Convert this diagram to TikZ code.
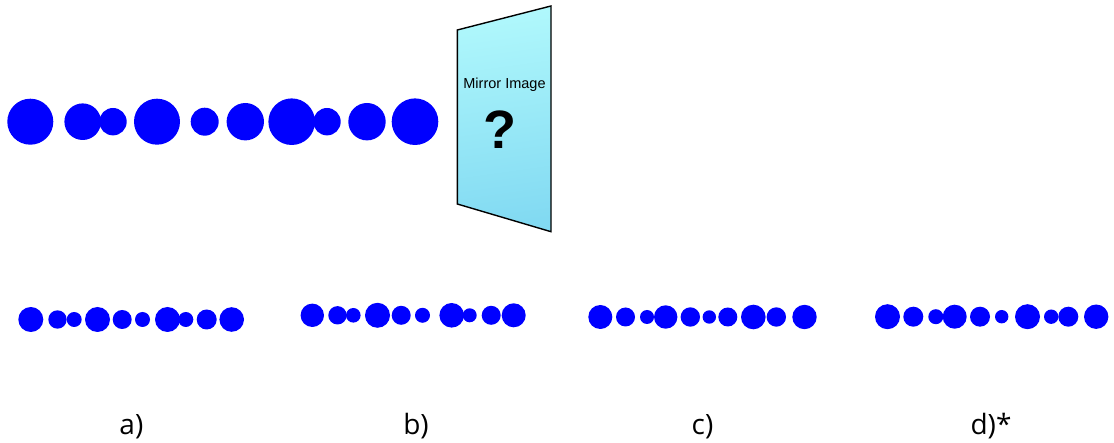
\documentclass[tikz,border=0pt]{standalone}
\usepackage{fontspec}
\newfontfamily\arialf{Liberation Sans}
\newfontfamily\labf{Open Sans}
\definecolor{dotblue}{HTML}{0000FF}
\definecolor{mtop}{HTML}{B0F8FC}
\definecolor{mmid}{HTML}{3EC9EA}
\definecolor{mbot}{HTML}{82DAF2}
\begin{document}
\begin{tikzpicture}[x=1pt,y=-1pt,
  dot/.style={fill=dotblue},
  lab/.style={font=\labf\fontsize{28}{30}\selectfont, anchor=base, inner sep=0pt},
  mirrortext/.style={font=\arialf\fontsize{14.5}{16}\selectfont, anchor=base, inner sep=0pt},
  qmark/.style={font=\arialf\bfseries\fontsize{54}{60}\selectfont, anchor=base, inner sep=0pt}]
\useasboundingbox (0,0) rectangle (1114,443);
% original row
\foreach \x/\r in {30.3/23, 82.7/18.3, 113/13.7, 157/23, 204.7/14, 245.3/18.7, 291.7/23.3, 327/13.7, 367/18.7, 415/23.3}
  \fill[dot] (\x,121.7) circle (\r pt);
% mirror
\coordinate (m1) at (457.3,30);
\coordinate (m2) at (551,6);
\coordinate (m3) at (551,231.7);
\coordinate (m4) at (457.3,204);
\shade[top color=mtop, middle color=mmid, bottom color=mbot, shading angle=8] (m1) -- (m2) -- (m3) -- (m4) -- cycle;
\draw[line width=1.4pt, line join=miter] (m1) -- (m2) -- (m3) -- (m4) -- cycle;
\node[mirrortext] (mt) at (504.5,88.3) {Mirror Image};
\node[qmark] (q) at (500,148.3) {?};
% option a
\foreach \x/\r in {30.8/12.5, 57.5/9.2, 74.2/7.5, 97.5/12.5, 122.2/9.5, 142.5/7.5, 167.5/12.5, 185.8/7.5, 206.7/10, 231.7/12.3}
  \fill[dot] (\x,319.5) circle (\r pt);
% option b
\foreach \x/\r in {312.3/11.7, 337.5/9.2, 353.3/7.3, 377.5/12.5, 401.2/9.5, 422.5/7.5, 451.7/12.3, 469.7/7, 491.2/9.5, 513.7/12}
  \fill[dot] (\x,315.3) circle (\r pt);
% option c
\foreach \x/\r in {600.3/12, 625.5/9.5, 647/7, 665.7/11.7, 690.3/9.7, 709.3/6.7, 727.8/9.5, 753.3/12.3, 776.3/9.7, 804.5/12.2}
  \fill[dot] (\x,317) circle (\r pt);
% option d
\foreach \x/\r in {887.5/12.5, 913.3/10, 935.8/7.5, 954.7/12, 980/10, 1001.7/6.7, 1027.5/12.5, 1051.2/7.2, 1068.3/10, 1096.2/12.2}
  \fill[dot] (\x,316.7) circle (\r pt);
% labels
\node[lab] (la) at (131.4,434.3) {a)};
\node[lab] (lb) at (416,434.3) {b)};
\node[lab] (lc) at (702.5,434.3) {c)};
\node[lab] (ld) at (991,434.3) {d)*};
\end{tikzpicture}
\end{document}
